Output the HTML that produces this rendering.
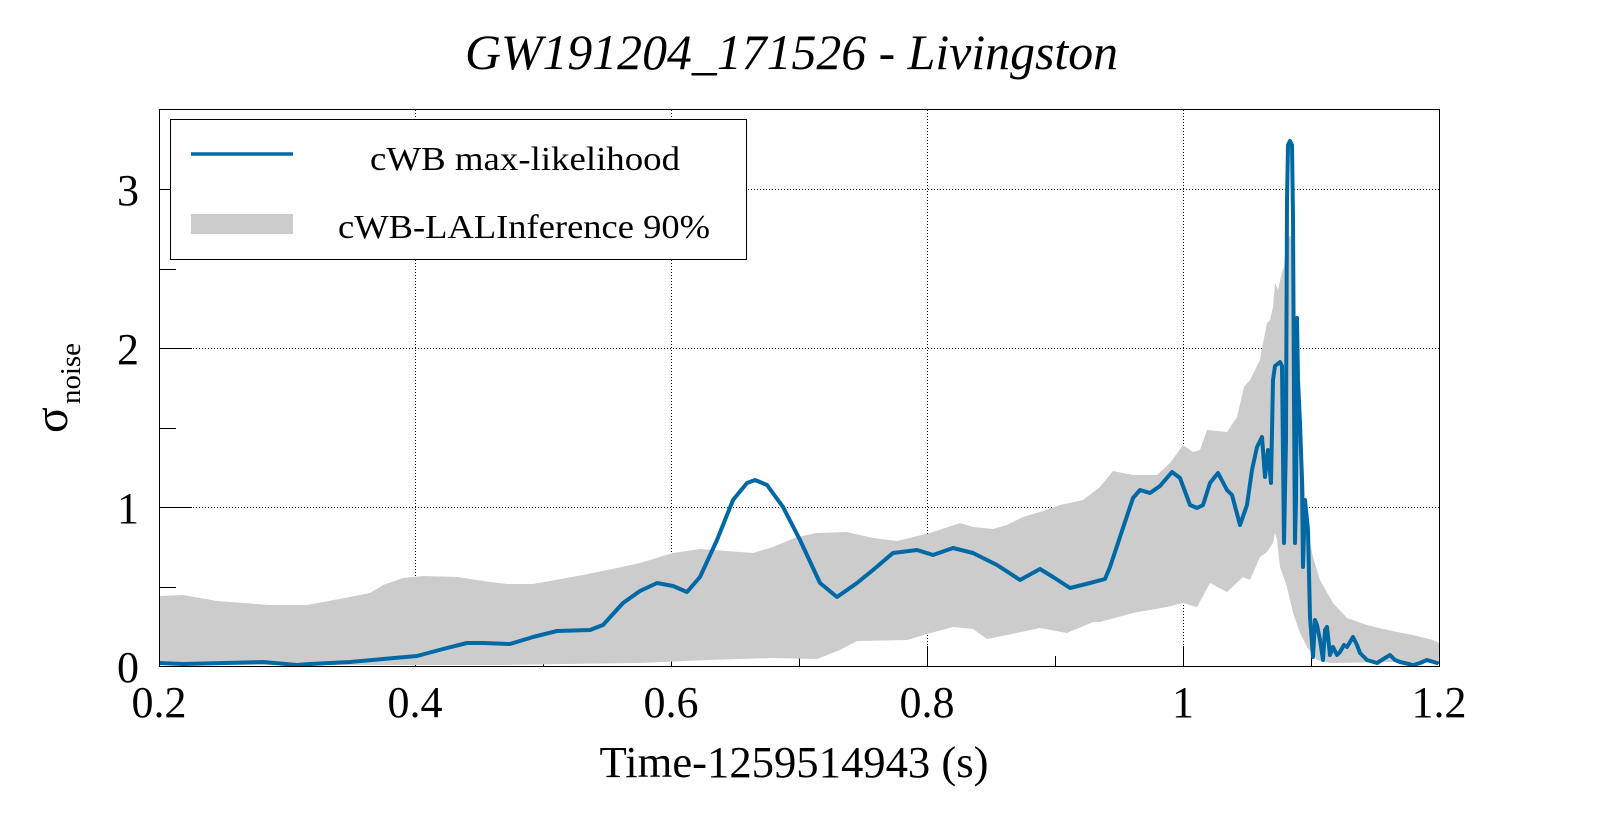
<!DOCTYPE html>
<html>
<head>
<meta charset="utf-8">
<style>
html,body{margin:0;padding:0;background:#fff;}
svg{display:block;}
text{font-family:"Liberation Serif","DejaVu Serif",serif;fill:#000;}
</style>
</head>
<body>
<svg width="1599" height="813" viewBox="0 0 1599 813" xmlns="http://www.w3.org/2000/svg">
<rect x="0" y="0" width="1599" height="813" fill="#fff"/>
<defs>
<clipPath id="pc"><rect x="159" y="109" width="1280" height="557"/></clipPath>
</defs>

<!-- grid -->
<g stroke="#000" stroke-width="1" stroke-dasharray="1 2" shape-rendering="crispEdges">
<line x1="415.5" y1="110" x2="415.5" y2="666"/>
<line x1="671.5" y1="110" x2="671.5" y2="666"/>
<line x1="927.5" y1="110" x2="927.5" y2="666"/>
<line x1="1183.5" y1="110" x2="1183.5" y2="666"/>
<line x1="160" y1="507.5" x2="1439" y2="507.5"/>
<line x1="160" y1="348.5" x2="1439" y2="348.5"/>
<line x1="160" y1="189.5" x2="1439" y2="189.5"/>
</g>

<!-- ticks -->
<g stroke="#000" stroke-width="1" shape-rendering="crispEdges">
<line x1="159.5" y1="666" x2="159.5" y2="646"/>
<line x1="415.5" y1="666" x2="415.5" y2="646"/>
<line x1="671.5" y1="666" x2="671.5" y2="646"/>
<line x1="927.5" y1="666" x2="927.5" y2="646"/>
<line x1="1183.5" y1="666" x2="1183.5" y2="646"/>
<line x1="1439.5" y1="666" x2="1439.5" y2="646"/>
<line x1="287.5" y1="666" x2="287.5" y2="656"/>
<line x1="543.5" y1="666" x2="543.5" y2="656"/>
<line x1="799.5" y1="666" x2="799.5" y2="656"/>
<line x1="1055.5" y1="666" x2="1055.5" y2="656"/>
<line x1="1311.5" y1="666" x2="1311.5" y2="656"/>
<line x1="159" y1="507.5" x2="192" y2="507.5"/>
<line x1="159" y1="348.5" x2="192" y2="348.5"/>
<line x1="159" y1="189.5" x2="192" y2="189.5"/>
<line x1="159" y1="587.5" x2="176" y2="587.5"/>
<line x1="159" y1="428.5" x2="176" y2="428.5"/>
<line x1="159" y1="269.5" x2="176" y2="269.5"/>
</g>

<!-- band -->
<g clip-path="url(#pc)">
<polygon fill="#cccccc" points="159,596 183,595 217,601 243,603 270,605 307,605 323,602 350,597 370,593 383,585 403,578 423,576 457,577 483,581 507,584 533,584 550,581 583,575 617,568 640,563 673,553 700,549 727,551 753,553 773,547 797,537 817,533 847,532 873,538 897,541 930,533 960,523 973,527 993,529 1007,525 1023,517 1040,512 1060,505 1083,500 1100,487 1113,471 1133,475 1157,475 1170,463 1183,445 1193,452 1200,450 1207,430 1227,432 1237,417 1244,387 1250,380 1260,360 1263,343 1267,323 1270,320 1273,307 1275,283 1278,290 1282,272 1284,267 1287,237 1291,236 1294,260 1296,370 1300,410 1307,527 1313,557 1320,580 1333,603 1347,618 1367,625 1383,629 1417,636 1433,640 1439,643 1439,663 1400,662 1330,663 1317,660 1307,647 1300,633 1293,613 1287,587 1280,567 1277,540 1275,533 1273,543 1267,552 1260,557 1250,580 1243,577 1227,592 1210,583 1197,607 1183,603 1167,607 1133,613 1100,622 1093,622 1067,633 1040,628 1007,635 987,639 973,629 953,627 927,634 907,640 857,641 840,650 817,659 773,658 707,660 640,663 500,665 159,665"/>
<polyline fill="none" stroke="#0069a5" stroke-width="4" stroke-linejoin="round" stroke-linecap="round" points="159,663 183,664 263,662 297,665 310,664 350,662 383,659 417,656 443,649 467,643 483,643 510,644 533,637 557,631 590,630 603,625 623,603 640,591 657,583 673,586 687,592 700,577 717,540 733,500 747,483 755,480 767,485 783,507 800,540 820,583 837,597 857,583 873,570 893,553 917,550 933,555 953,548 973,553 997,565 1020,580 1040,569 1053,577 1070,588 1090,583 1105,579 1110,567 1120,537 1133,498 1140,490 1150,493 1160,486 1172,472 1180,478 1190,505 1197,508 1203,505 1210,483 1218,473 1227,490 1232,495 1240,525 1247,505 1252,470 1257,447 1262,437 1265,477 1268,450 1271,483 1273,380 1275,366 1280,362 1282,366 1284,543 1286,440 1287,200 1288,145 1290,141 1292,145 1293,216 1294,400 1295,543 1296,500 1297,318 1298,380 1300,423 1302,480 1303,567 1305,500 1308,530 1310,617 1313,657 1315,620 1317,625 1320,640 1323,660 1325,630 1327,627 1330,655 1333,647 1337,655 1340,652 1344,645 1347,647 1353,637 1357,645 1360,653 1367,660 1377,663 1385,658 1390,655 1395,660 1400,662 1413,665 1420,663 1427,660 1437,663"/>
</g>

<!-- frame -->
<rect x="159.5" y="109.5" width="1280" height="557" fill="none" stroke="#000" stroke-width="1" shape-rendering="crispEdges"/>

<!-- legend -->
<rect x="170.5" y="119.5" width="576" height="140" fill="#fff" stroke="#000" stroke-width="1" shape-rendering="crispEdges"/>
<line x1="191" y1="154" x2="293" y2="154" stroke="#0069a5" stroke-width="3.5"/>
<rect x="191" y="214" width="102" height="20" fill="#cccccc"/>
<text x="525" y="170" font-size="34" text-anchor="middle" textLength="310" lengthAdjust="spacingAndGlyphs">cWB max-likelihood</text>
<text x="524" y="238" font-size="34" text-anchor="middle" textLength="372" lengthAdjust="spacingAndGlyphs">cWB-LALInference 90%</text>

<!-- title -->
<text x="465" y="69" font-size="50" font-style="italic" textLength="653" lengthAdjust="spacingAndGlyphs">GW191204_171526 - Livingston</text>

<!-- y tick labels -->
<g font-size="44" text-anchor="end">
<text x="139" y="682">0</text>
<text x="139" y="523">1</text>
<text x="139" y="364">2</text>
<text x="139" y="205">3</text>
</g>

<!-- x tick labels -->
<g font-size="44" text-anchor="middle">
<text x="159" y="717">0.2</text>
<text x="415" y="717">0.4</text>
<text x="671" y="717">0.6</text>
<text x="927" y="717">0.8</text>
<text x="1183" y="717">1</text>
<text x="1439" y="717">1.2</text>
</g>

<!-- axis titles -->
<text x="794" y="777" font-size="44.5" text-anchor="middle" textLength="389" lengthAdjust="spacingAndGlyphs">Time-1259514943 (s)</text>
<g transform="translate(67,433) rotate(-90)">
<text x="0" y="0" font-size="48">σ</text>
<text x="29" y="13" font-size="29" textLength="61" lengthAdjust="spacingAndGlyphs">noise</text>
</g>
</svg>
</body>
</html>
